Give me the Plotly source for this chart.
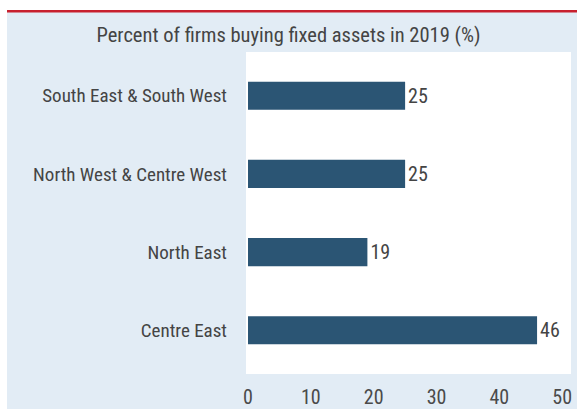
import plotly.graph_objects as go

regions = ["South East & South West", "North West & Centre West", "North East", "Centre East"]
values = [25, 25, 19, 46]
x_ticks = [0, 10, 20, 30, 40, 50]
title_text = "Percent of firms buying fixed assets in 2019 (%)"

W, H = 577, 409
L, R, T, B = 246, 6, 52, 35
pw, ph = W - L - R, H - T - B

def px_x(p):
    return (p - L) / pw

def px_y(p):
    return 1 - (p - T) / ph

FONT = "Liberation Sans Narrow, Roboto Condensed, Arial Narrow, sans-serif"
TXT = "#444444"

fig = go.Figure(go.Bar(
    y=regions, x=values, orientation="h",
    marker=dict(color="#2B5574", line=dict(width=0)),
    width=0.36,
    text=[str(v) for v in values], textposition="outside",
    textfont=dict(size=20, color=TXT, family=FONT),
    cliponaxis=False,
))

fig.update_layout(
    width=W, height=H,
    margin=dict(l=L, r=R, t=T, b=B, autoexpand=False),
    paper_bgcolor="white",
    plot_bgcolor="white",
    showlegend=False,
    font=dict(family=FONT, color=TXT),
    title=dict(text=title_text, x=0.5, xref="container", xanchor="center",
               y=1 - 35 / H, yref="container", yanchor="middle",
               font=dict(size=20.5, color=TXT, family=FONT)),
    xaxis=dict(range=[-0.32, 51.4], tickvals=x_ticks, showgrid=False, zeroline=False,
               showline=False, ticks="", tickfont=dict(size=20, color="#4a4a4a"),
               ticklabelstandoff=9, automargin=False),
    yaxis=dict(categoryorder="array", categoryarray=regions,
               range=[3.56, -0.56], showgrid=False, zeroline=False, showline=False,
               ticks="", tickfont=dict(size=19, color=TXT), ticklabelstandoff=18,
               automargin=False),
    shapes=[
        dict(type="rect", xref="paper", yref="paper", layer="below",
             x0=px_x(7), x1=px_x(W + 2), y0=px_y(H + 2), y1=px_y(12),
             fillcolor="#E2ECF5", line=dict(width=0)),
        dict(type="rect", xref="paper", yref="paper", layer="below",
             x0=px_x(7), x1=px_x(W + 2), y0=px_y(12.5), y1=px_y(10),
             fillcolor="#C8202E", line=dict(width=0)),
        dict(type="rect", xref="paper", yref="paper", layer="below",
             x0=0, x1=1, y0=0, y1=1,
             fillcolor="white", line=dict(width=0)),
    ],
)

fig.write_html("out.html", config={"displayModeBar": False},
               post_script="document.body.style.margin='0';document.body.style.overflow='hidden';")
